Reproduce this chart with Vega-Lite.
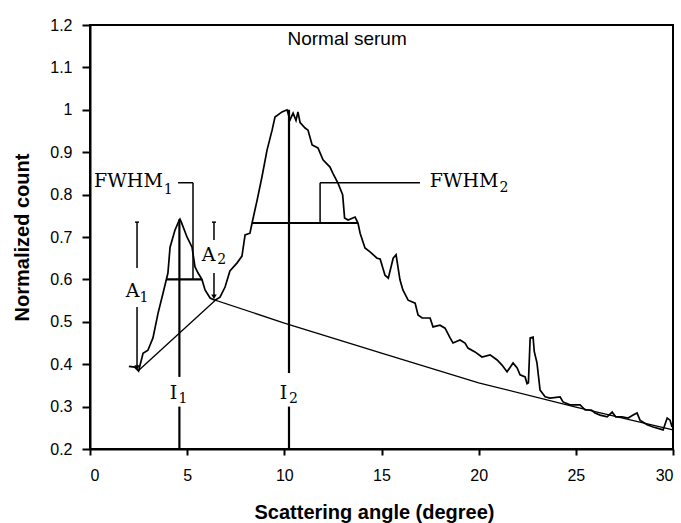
{
  "$schema": "https://vega.github.io/schema/vega-lite/v6.json",
  "width": 583,
  "height": 424,
  "autosize": {"type": "none"},
  "padding": {"left": 90, "top": 25, "right": 8, "bottom": 74},
  "config": {
    "view": {"stroke": "black", "strokeWidth": 2},
    "axis": {"domainColor": "black", "domainWidth": 2, "tickColor": "black", "tickWidth": 2, "grid": false,
      "labelFont": "Liberation Sans", "labelFontSize": 16, "labelColor": "black",
      "titleFont": "Liberation Sans", "titleFontSize": 20, "titleFontWeight": "bold", "titleColor": "black"}
  },
  "datasets": {
    "signal": [
      {"x": 2.0, "y": 0.395}, {"x": 2.3, "y": 0.393}, {"x": 2.5, "y": 0.384}, {"x": 2.73, "y": 0.426},
      {"x": 2.98, "y": 0.433}, {"x": 3.24, "y": 0.462}, {"x": 3.5, "y": 0.52}, {"x": 3.76, "y": 0.568},
      {"x": 4.01, "y": 0.615}, {"x": 4.12, "y": 0.676}, {"x": 4.37, "y": 0.716}, {"x": 4.55, "y": 0.735},
      {"x": 4.63, "y": 0.742}, {"x": 4.7, "y": 0.735}, {"x": 4.99, "y": 0.70}, {"x": 5.25, "y": 0.676},
      {"x": 5.40, "y": 0.63}, {"x": 5.56, "y": 0.615}, {"x": 5.76, "y": 0.6}, {"x": 5.92, "y": 0.575},
      {"x": 6.18, "y": 0.556}, {"x": 6.43, "y": 0.551}, {"x": 6.69, "y": 0.558}, {"x": 6.95, "y": 0.582},
      {"x": 7.2, "y": 0.62}, {"x": 7.57, "y": 0.639}, {"x": 7.82, "y": 0.655}, {"x": 7.98, "y": 0.705},
      {"x": 8.23, "y": 0.709}, {"x": 8.34, "y": 0.733}, {"x": 8.6, "y": 0.787}, {"x": 8.85, "y": 0.842},
      {"x": 9.11, "y": 0.905}, {"x": 9.37, "y": 0.952}, {"x": 9.52, "y": 0.983}, {"x": 9.88, "y": 0.995},
      {"x": 10.14, "y": 1.0}, {"x": 10.29, "y": 0.976}, {"x": 10.45, "y": 0.992}, {"x": 10.6, "y": 0.975},
      {"x": 10.7, "y": 0.995}, {"x": 10.81, "y": 0.97}, {"x": 11.07, "y": 0.957}, {"x": 11.22, "y": 0.952},
      {"x": 11.43, "y": 0.917}, {"x": 11.73, "y": 0.91}, {"x": 11.99, "y": 0.882}, {"x": 12.35, "y": 0.865},
      {"x": 12.5, "y": 0.85}, {"x": 12.76, "y": 0.827}, {"x": 13.0, "y": 0.8}, {"x": 13.1, "y": 0.745},
      {"x": 13.28, "y": 0.74}, {"x": 13.64, "y": 0.747}, {"x": 13.79, "y": 0.733}, {"x": 13.9, "y": 0.709},
      {"x": 14.15, "y": 0.674}, {"x": 14.41, "y": 0.665}, {"x": 14.77, "y": 0.65}, {"x": 14.93, "y": 0.648},
      {"x": 15.18, "y": 0.61}, {"x": 15.35, "y": 0.603}, {"x": 15.6, "y": 0.65}, {"x": 15.75, "y": 0.658},
      {"x": 15.95, "y": 0.599}, {"x": 16.1, "y": 0.575}, {"x": 16.37, "y": 0.551}, {"x": 16.73, "y": 0.544},
      {"x": 16.88, "y": 0.516}, {"x": 17.09, "y": 0.509}, {"x": 17.5, "y": 0.509}, {"x": 17.65, "y": 0.488},
      {"x": 18.01, "y": 0.492}, {"x": 18.27, "y": 0.485}, {"x": 18.53, "y": 0.462}, {"x": 18.68, "y": 0.45},
      {"x": 19.04, "y": 0.457}, {"x": 19.3, "y": 0.45}, {"x": 19.45, "y": 0.438}, {"x": 19.81, "y": 0.429},
      {"x": 20.17, "y": 0.417}, {"x": 20.59, "y": 0.422}, {"x": 20.95, "y": 0.41}, {"x": 21.2, "y": 0.398},
      {"x": 21.46, "y": 0.382}, {"x": 21.77, "y": 0.403}, {"x": 21.98, "y": 0.391}, {"x": 22.13, "y": 0.375},
      {"x": 22.39, "y": 0.37}, {"x": 22.49, "y": 0.354}, {"x": 22.56, "y": 0.356}, {"x": 22.65, "y": 0.462},
      {"x": 22.8, "y": 0.464}, {"x": 22.86, "y": 0.43}, {"x": 23.0, "y": 0.403}, {"x": 23.16, "y": 0.339},
      {"x": 23.42, "y": 0.323}, {"x": 23.67, "y": 0.32}, {"x": 24.19, "y": 0.323}, {"x": 24.34, "y": 0.311},
      {"x": 24.7, "y": 0.304}, {"x": 25.22, "y": 0.304}, {"x": 25.48, "y": 0.292}, {"x": 25.8, "y": 0.292},
      {"x": 25.99, "y": 0.285}, {"x": 26.25, "y": 0.28}, {"x": 26.61, "y": 0.276}, {"x": 26.87, "y": 0.287},
      {"x": 27.05, "y": 0.276}, {"x": 27.38, "y": 0.276}, {"x": 27.69, "y": 0.273}, {"x": 27.95, "y": 0.28},
      {"x": 28.15, "y": 0.285}, {"x": 28.3, "y": 0.268}, {"x": 28.67, "y": 0.257}, {"x": 28.98, "y": 0.252},
      {"x": 29.49, "y": 0.245}, {"x": 29.7, "y": 0.273}, {"x": 29.85, "y": 0.268}, {"x": 29.95, "y": 0.252}
    ],
    "baseline": [
      {"x": 2.47, "y": 0.384}, {"x": 6.45, "y": 0.551}, {"x": 10, "y": 0.497}, {"x": 15, "y": 0.426},
      {"x": 20, "y": 0.356}, {"x": 25, "y": 0.299}, {"x": 30, "y": 0.245}
    ],
    "segments": [
      {"kind": "thick", "x": 4.6, "y": 0.742, "x2": 4.6, "y2": 0.37},
      {"kind": "thick", "x": 4.6, "y": 0.30, "x2": 4.6, "y2": 0.2},
      {"kind": "thick", "x": 10.24, "y": 1.0, "x2": 10.24, "y2": 0.379},
      {"kind": "thick", "x": 10.24, "y": 0.30, "x2": 10.24, "y2": 0.2},
      {"kind": "thick", "x": 3.96, "y": 0.6, "x2": 5.76, "y2": 0.6},
      {"kind": "thick", "x": 8.34, "y": 0.733, "x2": 13.79, "y2": 0.733},
      {"kind": "thin", "x": 5.3, "y": 0.6, "x2": 5.3, "y2": 0.828},
      {"kind": "thin", "x": 4.53, "y": 0.828, "x2": 5.3, "y2": 0.828},
      {"kind": "thin", "x": 11.84, "y": 0.733, "x2": 11.84, "y2": 0.828},
      {"kind": "thin", "x": 11.84, "y": 0.828, "x2": 16.98, "y2": 0.828},
      {"kind": "thin", "x": 2.42, "y": 0.735, "x2": 2.42, "y2": 0.627},
      {"kind": "thin", "x": 2.42, "y": 0.535, "x2": 2.42, "y2": 0.395},
      {"kind": "thin", "x": 2.32, "y": 0.735, "x2": 2.52, "y2": 0.735},
      {"kind": "thin", "x": 6.38, "y": 0.735, "x2": 6.38, "y2": 0.693},
      {"kind": "thin", "x": 6.38, "y": 0.615, "x2": 6.38, "y2": 0.562},
      {"kind": "thin", "x": 6.28, "y": 0.735, "x2": 6.48, "y2": 0.735}
    ],
    "arrows": [
      {"x": 2.42, "y": 0.392},
      {"x": 6.38, "y": 0.559}
    ],
    "labels": [
      {"role": "main", "x": 1.98, "y": 0.832, "text": "FWHM"},
      {"role": "sub", "x": 4.02, "y": 0.81, "text": "1"},
      {"role": "main", "x": 19.25, "y": 0.832, "text": "FWHM"},
      {"role": "sub", "x": 21.3, "y": 0.815, "text": "2"},
      {"role": "main", "x": 2.19, "y": 0.573, "text": "A"},
      {"role": "sub", "x": 2.78, "y": 0.556, "text": "1"},
      {"role": "main", "x": 6.1, "y": 0.658, "text": "A"},
      {"role": "sub", "x": 6.78, "y": 0.645, "text": "2"},
      {"role": "main", "x": 4.3, "y": 0.332, "text": "I"},
      {"role": "sub", "x": 4.78, "y": 0.318, "text": "1"},
      {"role": "main", "x": 9.96, "y": 0.332, "text": "I"},
      {"role": "sub", "x": 10.47, "y": 0.318, "text": "2"},
      {"role": "title", "x": 13.23, "y": 1.166, "text": "Normal serum"}
    ]
  },
  "encoding": {
    "x": {"field": "x", "type": "quantitative", "scale": {"domain": [0, 30], "nice": false},
      "axis": {"title": "Scattering angle (degree)", "values": [0, 5, 10, 15, 20, 25, 30], "tickSize": 6, "labelPadding": 12,
        "titleX": 284, "titleY": 63, "titleBaseline": "middle", "titleAnchor": null, "titleAlign": "center"}},
    "y": {"field": "y", "type": "quantitative", "scale": {"domain": [0.2, 1.2], "nice": false},
      "axis": {"title": "Normalized count", "values": [0.2, 0.3, 0.4, 0.5, 0.6, 0.7, 0.8, 0.9, 1.0, 1.1, 1.2], "format": ".1~f",
        "tickSize": 8, "labelPadding": 10, "titleX": -68, "titleY": 212, "titleAngle": -90, "titleBaseline": "middle", "titleAlign": "center"}}
  },
  "layer": [
    {"data": {"name": "baseline"}, "mark": {"type": "line", "color": "black", "strokeWidth": 1.3}},
    {"data": {"name": "signal"}, "mark": {"type": "line", "color": "black", "strokeWidth": 1.7}},
    {"data": {"name": "segments"}, "transform": [{"filter": "datum.kind === 'thick'"}],
      "mark": {"type": "rule", "color": "black", "strokeWidth": 2.2},
      "encoding": {"x2": {"field": "x2"}, "y2": {"field": "y2"}}},
    {"data": {"name": "segments"}, "transform": [{"filter": "datum.kind === 'thin'"}],
      "mark": {"type": "rule", "color": "black", "strokeWidth": 1.5},
      "encoding": {"x2": {"field": "x2"}, "y2": {"field": "y2"}}},
    {"data": {"name": "arrows"}, "mark": {"type": "point", "shape": "triangle-down", "filled": true, "color": "black", "size": 30, "opacity": 1}},
    {"data": {"name": "labels"}, "transform": [{"filter": "datum.role === 'main'"}],
      "mark": {"type": "text", "font": "DejaVu Serif", "fontSize": 19, "color": "black", "align": "center", "baseline": "middle"},
      "encoding": {"text": {"field": "text"}}},
    {"data": {"name": "labels"}, "transform": [{"filter": "datum.role === 'sub'"}],
      "mark": {"type": "text", "font": "DejaVu Serif", "fontSize": 14, "color": "black", "align": "center", "baseline": "middle"},
      "encoding": {"text": {"field": "text"}}},
    {"data": {"name": "labels"}, "transform": [{"filter": "datum.role === 'title'"}],
      "mark": {"type": "text", "font": "Liberation Sans", "fontSize": 19, "color": "black", "align": "center", "baseline": "middle"},
      "encoding": {"text": {"field": "text"}}}
  ]
}
